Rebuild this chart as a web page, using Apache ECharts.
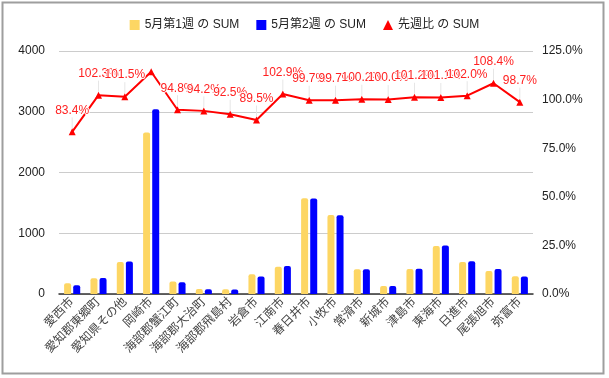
<!DOCTYPE html>
<html>
<head>
<meta charset="utf-8">
<script src="https://cdn.jsdelivr.net/npm/echarts@6/dist/echarts.min.js"></script>
<style>
  html, body { margin: 0; padding: 0; background: #fff; }
  #main { width: 609px; height: 378px; }
</style>
</head>
<body>
<div id="main"></div>
<script>
// categories (cities)
const cities = ['愛西市', '愛知郡東郷町', '愛知県その他', '岡崎市', '海部郡蟹江町', '海部郡大治町',
  '海部郡飛島村', '岩倉市', '江南市', '春日井市', '小牧市', '常滑市', '新城市', '津島市',
  '東海市', '日進市', '尾張旭市', '弥富市'];
// weekly sums
const week1 = [175, 258, 527, 2660, 205, 82, 80, 324, 448, 1575, 1300, 406, 132, 410, 790, 527, 378, 291];
const week2 = [146, 264, 535, 3040, 194, 77, 74, 290, 461, 1570, 1296, 407, 132, 415, 799, 538, 410, 287];
// week-over-week ratio (%)
const ratio = [83.4, 102.3, 101.5, 114.3, 94.8, 94.2, 92.5, 89.5, 102.9, 99.7, 99.7, 100.2, 100.0, 101.2, 101.1, 102.0, 108.4, 98.7];
const hiddenLabel = 3; // 岡崎市 label not shown

const chart = echarts.init(document.getElementById('main'), null, { renderer: 'canvas' });
const font = 'Liberation Sans, Arial, "Noto Sans CJK JP", sans-serif';

chart.setOption({
  animation: false,
  textStyle: { fontFamily: font },
  graphic: [{
    type: 'rect',
    shape: { x: 2.5, y: 2.5, width: 601, height: 371 },
    style: { fill: 'none', stroke: '#9e9e9e', lineWidth: 2 },
    silent: true
  }],
  legend: {
    top: 14,
    left: 'center',
    itemWidth: 10,
    itemHeight: 10,
    itemGap: 17,
    textStyle: { fontSize: 12, color: '#222', fontFamily: font },
    data: [
      { name: '5月第1週 の SUM', icon: 'rect' },
      { name: '5月第2週 の SUM', icon: 'rect' },
      { name: '先週比 の SUM', icon: 'triangle' }
    ]
  },
  grid: { left: 59, right: 76, top: 51, bottom: 84 },
  xAxis: {
    type: 'category',
    data: cities,
    axisTick: { show: false },
    axisLine: { lineStyle: { color: '#333', width: 1.5 } },
    axisLabel: { rotate: 45, interval: 0, margin: 6, fontSize: 12, color: '#444', fontFamily: font }
  },
  yAxis: [{
    type: 'value',
    min: 0, max: 4000, interval: 1000,
    axisLabel: { fontSize: 12, color: '#222', margin: 14, fontFamily: font,
      formatter: v => String(v) },
    splitLine: { lineStyle: { color: '#ccc' } },
    axisLine: { show: false },
    axisTick: { show: false }
  }, {
    type: 'value',
    min: 0, max: 125, interval: 25,
    axisLabel: { fontSize: 12, color: '#222', margin: 9, fontFamily: font,
      formatter: v => v.toFixed(1) + '%' },
    splitLine: { show: false },
    axisLine: { show: false },
    axisTick: { show: false }
  }],
  series: [{
    name: '5月第1週 の SUM',
    type: 'bar',
    data: week1,
    barWidth: 7,
    barGap: '30%',
    itemStyle: { color: '#fdd663', borderRadius: [2, 2, 0, 0] }
  }, {
    name: '5月第2週 の SUM',
    type: 'bar',
    data: week2,
    barWidth: 7,
    barGap: '30%',
    itemStyle: { color: '#0000ff', borderRadius: [2, 2, 0, 0] }
  }, {
    name: '先週比 の SUM',
    type: 'line',
    yAxisIndex: 1,
    data: ratio.map((v, i) => i === hiddenLabel ? { value: v, label: { show: false } } : v),
    symbol: 'triangle',
    symbolSize: 7,
    z: 5,
    itemStyle: { color: '#ff0000' },
    lineStyle: { color: '#ff0000', width: 2 },
    label: {
      show: true,
      position: 'top',
      distance: 4,
      fontSize: 12,
      color: '#ff2020',
      fontFamily: font,
      textBorderColor: '#fff',
      textBorderWidth: 2,
      formatter: p => p.value.toFixed(1) + '%'
    },
    labelLayout: { dy: -8 },
    labelLine: { show: true, lineStyle: { color: '#e6e6e6', width: 1 } }
  }]
});
</script>
</body>
</html>
